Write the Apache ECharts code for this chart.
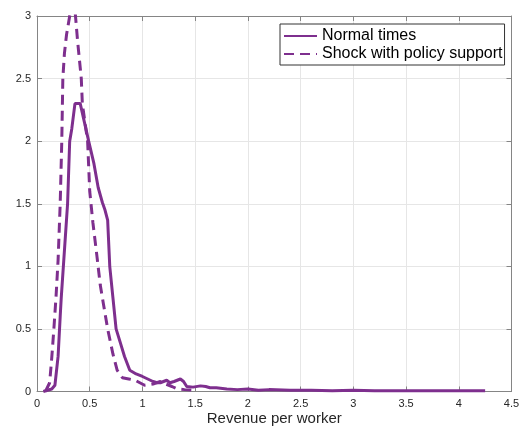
<!DOCTYPE html>
<html>
<head>
<meta charset="utf-8">
<script src="https://cdn.jsdelivr.net/npm/echarts@6/dist/echarts.min.js"></script>
<style>html,body{margin:0;padding:0;background:#fff;}#c{width:521px;height:427px;}</style>
</head>
<body>
<div id="c"></div>
<script>
var seriesNames = ['Normal times', 'Shock with policy support'];
var normalX = [0.06,0.1,0.14,0.17,0.2,0.22,0.23,0.25,0.27,0.29,0.31,0.33,0.36,0.41,0.45,0.49,0.54,0.58,0.62,0.645,0.67,0.69,0.72,0.75,0.79,0.83,0.88,0.94,1.0,1.05,1.1,1.14,1.17,1.2,1.23,1.26,1.3,1.33,1.36,1.39,1.42,1.48,1.55,1.6,1.64,1.7,1.8,1.9,2.0,2.1,2.2,2.4,2.6,2.8,3.0,3.2,3.5,4.0,4.25];
var normalY = [0,0.01,0.02,0.05,0.28,0.6,0.75,1.0,1.25,1.5,2.0,2.1,2.3,2.3,2.15,2.0,1.82,1.63,1.51,1.45,1.37,1.0,0.75,0.5,0.39,0.28,0.17,0.14,0.12,0.1,0.08,0.07,0.07,0.08,0.09,0.07,0.08,0.09,0.1,0.08,0.04,0.035,0.045,0.04,0.03,0.03,0.02,0.015,0.02,0.01,0.015,0.01,0.01,0.005,0.01,0.005,0.005,0.005,0.005];
var shockX = [0.08,0.12,0.14,0.16,0.18,0.2,0.22,0.235,0.245,0.26,0.28,0.31,0.34,0.36,0.385,0.42,0.43,0.48,0.5,0.53,0.57,0.6,0.63,0.67,0.72,0.76,0.81,0.87,0.93,1.02,1.1,1.17,1.22,1.28,1.33,1.4,1.5];
var shockY = [0,0.07,0.27,0.5,0.75,1.05,1.5,2.0,2.5,2.7,2.85,3.0,3.1,3.05,2.8,2.5,2.3,2.0,1.6,1.35,1.07,0.85,0.7,0.5,0.3,0.17,0.11,0.1,0.09,0.05,0.06,0.08,0.06,0.04,0.02,0.015,0.01];
var xTicks = {min: 0, max: 4.5, interval: 0.5};
var yTicks = {min: 0, max: 3, interval: 0.5};
var xLabel = 'Revenue per worker';

function pairs(xs, ys) { return xs.map(function (x, i) { return [x, ys[i]]; }); }

var color = '#7E2F8E';
var axisCol = '#858585';
var font = 'Liberation Sans, Arial, Helvetica, sans-serif';

var chart = echarts.init(document.getElementById('c'), null, {renderer: 'canvas'});
chart.setOption({
  animation: false,
  backgroundColor: '#fff',
  grid: {left: 37, right: 9.5, top: 16, bottom: 35.5, containLabel: false, outerBoundsMode: 'none'},
  legend: {
    orient: 'vertical', left: 280, top: 24,
    backgroundColor: '#fff', borderColor: '#333', borderWidth: 1,
    padding: [4, 2, 3, 3], itemGap: 2, itemWidth: 33, itemHeight: 14,
    itemStyle: {opacity: 0},
    textStyle: {fontFamily: font, fontSize: 16, color: '#000'},
    data: seriesNames
  },
  xAxis: [{
    type: 'value', min: xTicks.min, max: xTicks.max, interval: xTicks.interval,
    name: xLabel, nameLocation: 'middle', nameGap: 20, nameMoveOverlap: false,
    nameTextStyle: {fontFamily: font, fontSize: 15, color: '#262626'},
    axisLine: {show: true, lineStyle: {color: axisCol, width: 1}},
    axisTick: {show: true, inside: true, length: 5, lineStyle: {color: axisCol}},
    axisLabel: {fontFamily: font, fontSize: 11, color: '#262626', margin: 7},
    splitLine: {show: true, lineStyle: {color: '#e6e6e6', width: 1}}
  }, {
    type: 'value', position: 'top', min: xTicks.min, max: xTicks.max, interval: xTicks.interval,
    axisLine: {show: true, onZero: false, lineStyle: {color: axisCol, width: 1}},
    axisTick: {show: true, inside: true, length: 5, lineStyle: {color: axisCol}},
    axisLabel: {show: false}, splitLine: {show: false}
  }],
  yAxis: [{
    type: 'value', min: yTicks.min, max: yTicks.max, interval: yTicks.interval,
    axisLine: {show: true, lineStyle: {color: axisCol, width: 1}},
    axisTick: {show: true, inside: true, length: 5, lineStyle: {color: axisCol}},
    axisLabel: {fontFamily: font, fontSize: 11, color: '#262626', margin: 6},
    splitLine: {show: true, lineStyle: {color: '#e6e6e6', width: 1}}
  }, {
    type: 'value', position: 'right', min: yTicks.min, max: yTicks.max, interval: yTicks.interval,
    axisLine: {show: true, onZero: false, lineStyle: {color: axisCol, width: 1}},
    axisTick: {show: true, inside: true, length: 5, lineStyle: {color: axisCol}},
    axisLabel: {show: false}, splitLine: {show: false}
  }],
  series: [{
    name: seriesNames[0], type: 'line', showSymbol: false, symbol: 'none',
    clip: true, smooth: false,
    lineStyle: {color: color, width: 3, type: 'solid'},
    itemStyle: {color: color},
    data: pairs(normalX, normalY)
  }, {
    name: seriesNames[1], type: 'line', showSymbol: false, symbol: 'none',
    clip: true, smooth: false,
    lineStyle: {color: color, width: 3, type: [10, 6]},
    itemStyle: {color: color},
    data: pairs(shockX, shockY)
  }]
});
</script>
</body>
</html>
